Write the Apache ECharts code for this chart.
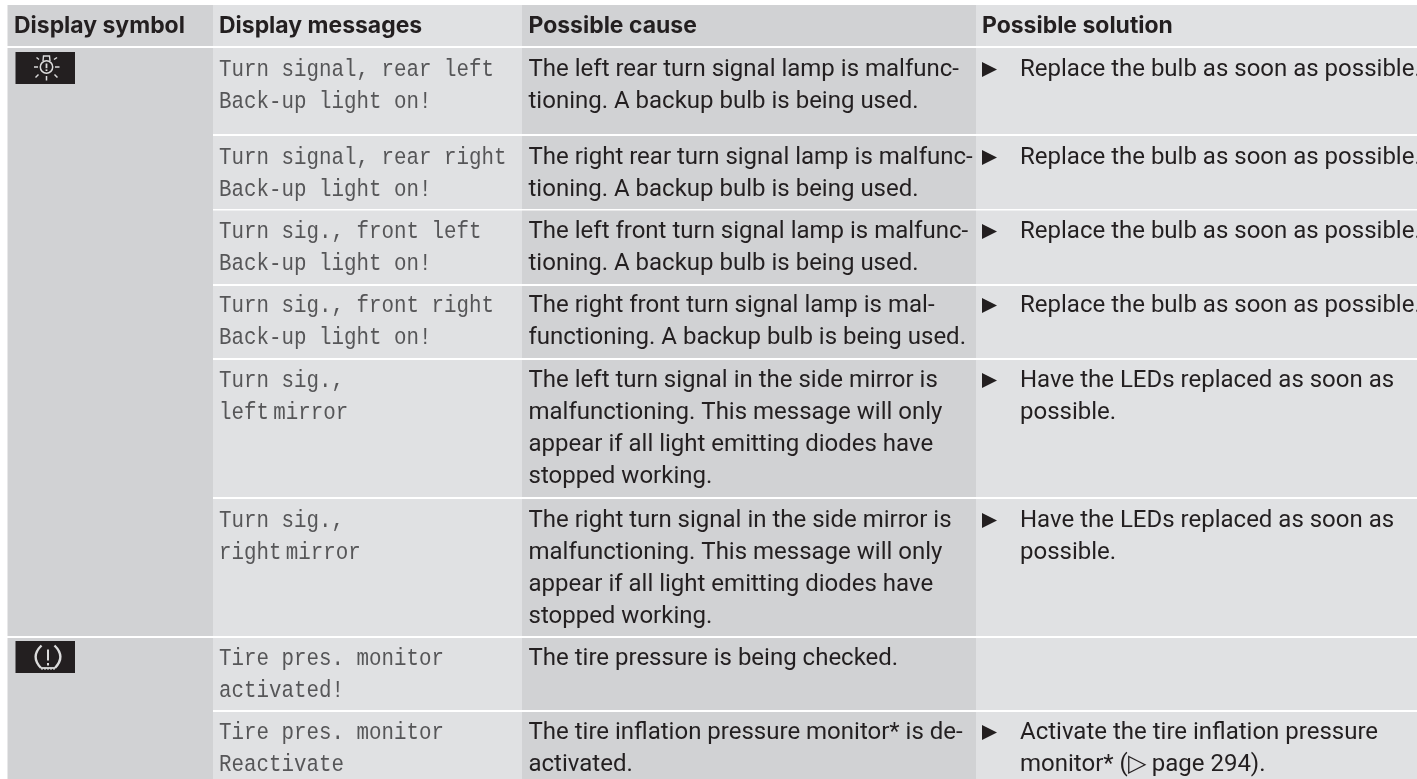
<!DOCTYPE html>
<html>
<head>
<meta charset="utf-8">
<script src="https://cdn.jsdelivr.net/npm/echarts@6/dist/echarts.min.js"></script>
<style>html,body{margin:0;padding:0;background:#fff}#c{width:1417px;height:779px}</style>
</head>
<body>
<div id="c"></div>
<script>
const headers = ["Display symbol", "Display messages", "Possible cause", "Possible solution"];
const messages = [
  ["Turn signal, rear left", "Back-up light on!"],
  ["Turn signal, rear right", "Back-up light on!"],
  ["Turn sig., front left", "Back-up light on!"],
  ["Turn sig., front right", "Back-up light on!"],
  ["Turn sig.,", "left\u2009mirror"],
  ["Turn sig.,", "right\u2009mirror"],
  ["Tire pres. monitor", "activated!"],
  ["Tire pres. monitor", "Reactivate"]
];
const causes = [
  ["The left rear turn signal lamp is malfunc-", "tioning. A backup bulb is being used."],
  ["The right rear turn signal lamp is malfunc-", "tioning. A backup bulb is being used."],
  ["The left front turn signal lamp is malfunc-", "tioning. A backup bulb is being used."],
  ["The right front turn signal lamp is mal-", "functioning. A backup bulb is being used."],
  ["The left turn signal in the side mirror is", "malfunctioning. This message will only", "appear if all light emitting diodes have", "stopped working."],
  ["The right turn signal in the side mirror is", "malfunctioning. This message will only", "appear if all light emitting diodes have", "stopped working."],
  ["The tire pressure is being checked."],
  ["The tire inflation pressure monitor* is de-", "activated."]
];
const solutions = [
  ["Replace the bulb as soon as possible."],
  ["Replace the bulb as soon as possible."],
  ["Replace the bulb as soon as possible."],
  ["Replace the bulb as soon as possible."],
  ["Have the LEDs replaced as soon as", "possible."],
  ["Have the LEDs replaced as soon as", "possible."],
  [],
  ["Activate the tire inflation pressure", "monitor* (\u25B7 page 294)."]
];

const columnEdges = [7.5, 213, 522, 976, 1417];
const columnFills = ["#d1d2d4", "#e0e1e3", "#d1d2d4", "#e0e1e3"];
const textX = [14, 219, 528.5, 1020];
const bulletX = 982;
const headerBand = [5, 46];
const rowTops = [48, 136, 210.5, 286, 360, 499, 638, 712];
const rowBottoms = [134, 209, 284, 358, 497, 636, 710, 779];
const rowBaselines = [76, 164, 238, 312, 387, 527, 665, 739];
const lineGap = 32;
const headerBaseline = 32.5;

const ink = "#231f20";
const fontBody = { family: "Roboto", size: 24, weight: 400, scale: 1, color: ink, dy: 6 };
const fontHead = { family: "Inter", size: 22.5, weight: 700, scale: 1.02, color: ink, dy: 5.5 };
const fontMono = { family: "Liberation Mono", size: 24.5, weight: 400, scale: 0.85, color: "#565658", dy: 6 };

const cells = [];
columnEdges.slice(0, 4).forEach((x0, c) => {
  const x1 = columnEdges[c + 1];
  cells.push([x0, headerBand[0], x1, headerBand[1], columnFills[c]]);
  if (c === 0) {
    cells.push([x0, rowTops[0], x1, rowBottoms[5], columnFills[c]]);
    cells.push([x0, rowTops[6], x1, rowBottoms[7], columnFills[c]]);
  } else {
    rowTops.forEach((t, r) => cells.push([x0, t, x1, rowBottoms[r], columnFills[c]]));
  }
});

const lines = [];
headers.forEach((t, c) => lines.push({ x: c === 3 ? 982 : textX[c], y: headerBaseline + fontHead.dy, t, f: fontHead }));
rowBaselines.forEach((b, r) => {
  messages[r].forEach((t, i) => lines.push({ x: textX[1], y: b + i * lineGap + 0.5 + fontMono.dy, t, f: fontMono }));
  causes[r].forEach((t, i) => lines.push({ x: textX[2], y: b + i * lineGap + fontBody.dy, t, f: fontBody }));
  solutions[r].forEach((t, i) => lines.push({ x: textX[3], y: b + i * lineGap + fontBody.dy, t, f: fontBody }));
});

const bullets = [];
rowBaselines.forEach((b, r) => { if (solutions[r].length) bullets.push([bulletX, b + 1]); });

function bulbIcon(c) {
  const s = "#dcdcdc";
  const seg = (a, b, d, e, w) => ({ type: "line", shape: { x1: c[0] + a, y1: c[1] + b, x2: c[0] + d, y2: c[1] + e }, style: { stroke: s, lineWidth: w || 1.5 } });
  return [
    { type: "circle", shape: { cx: c[0], cy: c[1], r: 6.2 }, style: { fill: "none", stroke: s, lineWidth: 1.5 } },
    { type: "polyline", shape: { points: [[c[0] - 3.5, c[1] - 6], [c[0] - 3, c[1] - 11], [c[0] + 3, c[1] - 11], [c[0] + 3.5, c[1] - 6]] }, style: { fill: "none", stroke: s, lineWidth: 1.4 } },
    seg(0, -3.5, 0, 1.2, 1.8), seg(0, 2.4, 0, 4, 1.8),
    seg(-12.5, 0, -8.5, 0), seg(8.5, 0, 13, 0), seg(0, 9, 0, 13.5),
    seg(-8, 7.5, -11, 10.5), seg(8, 7.5, 11, 10.5), seg(-7.5, -7.5, -10, -9.5), seg(7.5, -7.5, 10.5, -9.5)
  ];
}
function tireIcon(c) {
  const s = "#dcdcdc";
  const P = (a, b) => [c[0] + a, c[1] + b];
  const curve = (p1, cp, p2) => ({ type: "bezierCurve", shape: { x1: P(...p1)[0], y1: P(...p1)[1], cpx1: P(...cp)[0], cpy1: P(...cp)[1], x2: P(...p2)[0], y2: P(...p2)[1] }, style: { fill: "none", stroke: s, lineWidth: 2.4 } });
  const seg = (a, b, d, e, w) => ({ type: "line", shape: { x1: c[0] + a, y1: c[1] + b, x2: c[0] + d, y2: c[1] + e }, style: { stroke: s, lineWidth: w } });
  const els = [
    curve([-6.5, -11], [-18, 0], [-7, 11.5]),
    curve([6.5, -11], [18, 0], [7, 11.5]),
    seg(-7, 11.5, 7, 11.5, 1.8),
    seg(0, -7, 0, 4, 2), seg(0, 6.5, 0, 9, 2)
  ];
  [-6, -3, 0, 3, 6].forEach(d => els.push(seg(d, 11.5, d, 13.5, 1.1)));
  return els;
}
const iconBoxes = [[15.5, 52, 75, 84], [15.5, 641, 75, 673]];
const icons = [bulbIcon, tireIcon];
const iconCentres = [[46.5, 67], [48, 656.5]];

const option = {
  animation: false,
  backgroundColor: "#ffffff",
  grid: { left: 0, right: 0, top: 0, bottom: 0 },
  xAxis: { type: "value", min: 0, max: 1417, show: false },
  yAxis: { type: "value", min: 0, max: 779, inverse: true, show: false },
  tooltip: { show: false },
  series: [
    {
      type: "custom", silent: true, clip: false, z: 1,
      data: cells.map(c => c.slice(0, 4)),
      encode: { x: [0, 2], y: [1, 3] },
      renderItem(p, api) {
        const a = api.coord([api.value(0), api.value(1)]);
        const b = api.coord([api.value(2), api.value(3)]);
        return { type: "rect", shape: { x: a[0], y: a[1], width: b[0] - a[0], height: b[1] - a[1] }, style: { fill: cells[p.dataIndex][4] } };
      }
    },
    {
      type: "custom", silent: true, clip: false, z: 2,
      data: bullets,
      encode: { x: 0, y: 1 },
      renderItem(p, api) {
        const a = api.coord([api.value(0), api.value(1)]);
        return { type: "polygon", shape: { points: [[a[0], a[1] - 15], [a[0] + 15, a[1] - 7.5], [a[0], a[1]]] }, style: { fill: ink } };
      }
    },
    {
      type: "custom", silent: true, clip: false, z: 2,
      data: iconBoxes,
      encode: { x: [0, 2], y: [1, 3] },
      renderItem(p, api) {
        const a = api.coord([api.value(0), api.value(1)]);
        const b = api.coord([api.value(2), api.value(3)]);
        const c = api.coord(iconCentres[p.dataIndex]);
        return {
          type: "group",
          children: [{ type: "rect", shape: { x: a[0], y: a[1], width: b[0] - a[0], height: b[1] - a[1] }, style: { fill: ink } }].concat(icons[p.dataIndex](c))
        };
      }
    },
    {
      type: "custom", silent: true, clip: false, z: 3,
      data: lines.map(l => [l.x, l.y]),
      encode: { x: 0, y: 1 },
      renderItem(p, api) {
        const a = api.coord([api.value(0), api.value(1)]);
        const l = lines[p.dataIndex];
        return {
          type: "text", x: a[0], y: a[1], scaleX: l.f.scale, scaleY: 1,
          style: { text: l.t, fontFamily: l.f.family, fontSize: l.f.size, fontWeight: l.f.weight, fill: l.f.color, textAlign: "left", verticalAlign: "bottom" }
        };
      }
    }
  ]
};
const chart = echarts.init(document.getElementById("c"), null, { renderer: "canvas" });
chart.setOption(option);
</script>
</body>
</html>
